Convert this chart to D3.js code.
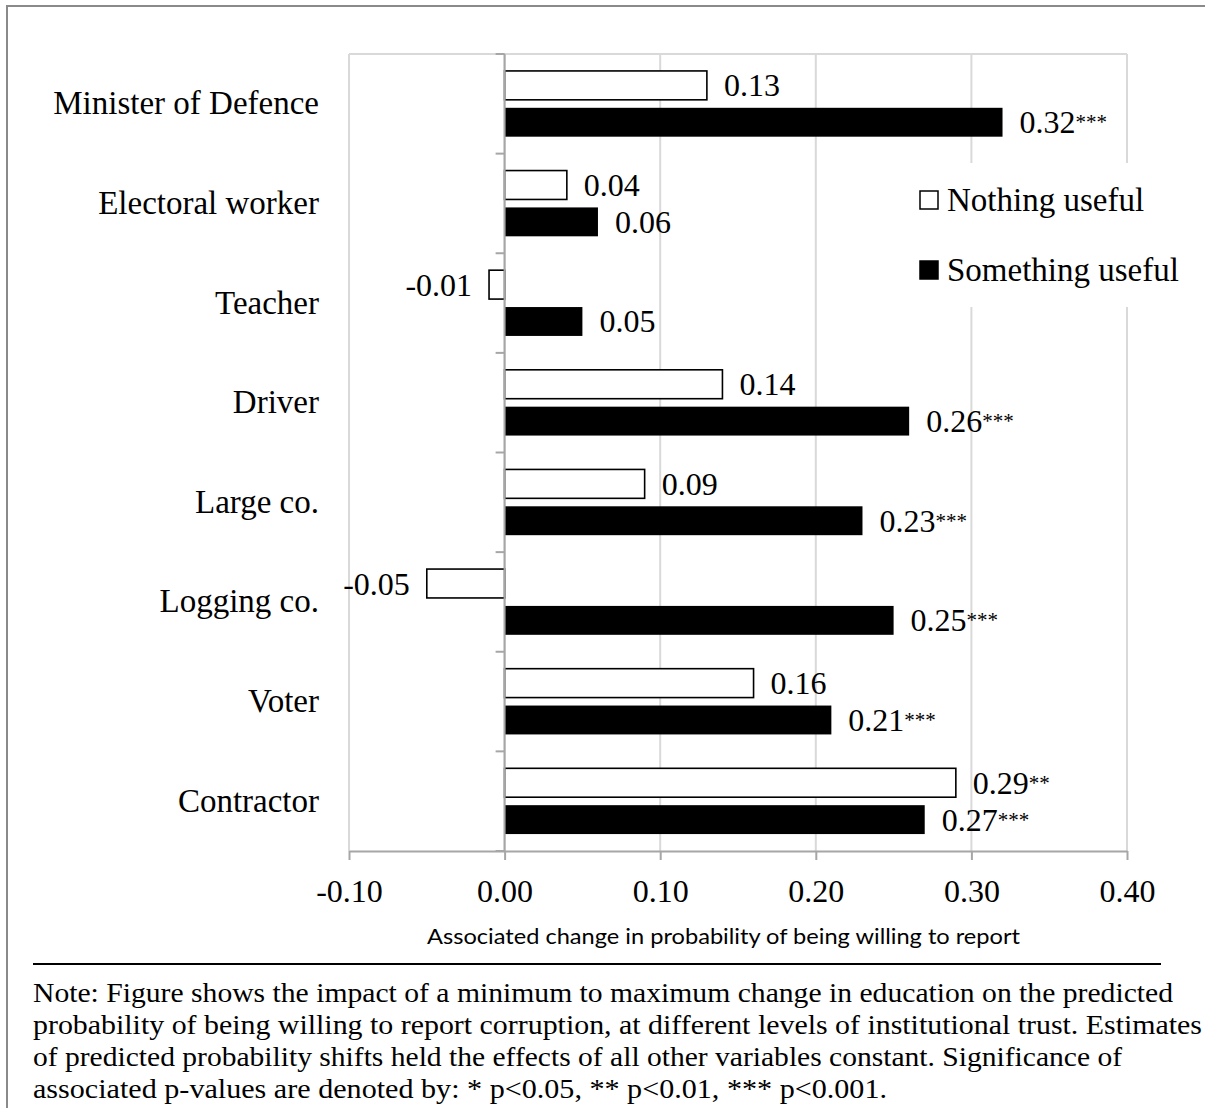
<!DOCTYPE html>
<html>
<head>
<meta charset="utf-8">
<script src="https://cdn.jsdelivr.net/npm/d3@7"></script>
<style>
  html, body { margin: 0; padding: 0; background: #fff; }
  svg { display: block; }
</style>
</head>
<body>
<script>
// Education effect on willingness to report, by target and institutional-trust level
const categories = ["Minister of Defence", "Electoral worker", "Teacher", "Driver",
                    "Large co.", "Logging co.", "Voter", "Contractor"];
const seriesNames = ["Nothing useful", "Something useful"];
const nothingUseful   = [0.13, 0.04, -0.01, 0.14, 0.09, -0.05, 0.16, 0.29];
const somethingUseful = [0.32, 0.06, 0.05, 0.26, 0.23, 0.25, 0.21, 0.27];
const nothingSig   = ["", "", "", "", "", "", "", "**"];
const somethingSig = ["***", "", "", "***", "***", "***", "***", "***"];
const xTicks = [-0.10, 0.00, 0.10, 0.20, 0.30, 0.40];
const xTitle = "Associated change in probability of being willing to report";
const noteLines = [
  "Note: Figure shows the impact of a minimum to maximum change in education on the predicted",
  "probability of being willing to report corruption, at different levels of institutional trust. Estimates",
  "of predicted probability shifts held the effects of all other variables constant. Significance of",
  "associated p-values are denoted by: * p<0.05, ** p<0.01, *** p<0.001."
];

const W = 1205, H = 1108;
const serif = "'Liberation Serif', 'DejaVu Serif', serif";
const sans = "Lato, 'Open Sans', sans-serif";

const svg = d3.select("body").append("svg").attr("width", W).attr("height", H);

// outer frame of the figure
svg.append("rect").attr("x", 7).attr("y", 6).attr("width", W + 20).attr("height", H + 20)
  .attr("fill", "none").attr("stroke", "#8a8a8a").attr("stroke-width", 2);

const plot = { left: 349, right: 1127, top: 54, bottom: 851 };

const x = d3.scaleLinear().domain([-0.10, 0.40]).range([plot.left, plot.right]);
const y = d3.scaleBand().domain(categories).range([plot.top, plot.bottom]).padding(0);

const rows = categories.map((c, i) => ({
  cat: c,
  vals: [
    { s: 0, v: nothingUseful[i], sig: nothingSig[i] },
    { s: 1, v: somethingUseful[i], sig: somethingSig[i] }
  ]
}));

// vertical gridlines
svg.append("g").selectAll("line").data(xTicks).join("line")
  .attr("x1", d => x(d)).attr("x2", d => x(d))
  .attr("y1", plot.top).attr("y2", plot.bottom)
  .attr("stroke", "#d9d9d9").attr("stroke-width", 2);

// plot-area border (top)
svg.append("line").attr("x1", plot.left).attr("x2", plot.right)
  .attr("y1", plot.top).attr("y2", plot.top)
  .attr("stroke", "#d9d9d9").attr("stroke-width", 2);

// bars
const bw = y.bandwidth();
const barH = bw * 0.29, barGap = bw * 0.08;
const barY = (cat, s) => y(cat) + (bw - 2 * barH - barGap) / 2 + s * (barH + barGap);

const g = svg.append("g");
rows.forEach(r => {
  r.vals.forEach(d => {
    const x0 = x(Math.min(0, d.v)), x1 = x(Math.max(0, d.v));
    g.append("rect")
      .attr("x", x0).attr("y", barY(r.cat, d.s))
      .attr("width", x1 - x0).attr("height", barH)
      .attr("fill", d.s === 0 ? "#fff" : "#000")
      .attr("stroke", "#000").attr("stroke-width", d.s === 0 ? 1.6 : 0);
  });
});

// category axis at zero with ticks on band boundaries
const yAxis = svg.append("g");
yAxis.append("line").attr("x1", x(0)).attr("x2", x(0))
  .attr("y1", plot.top).attr("y2", plot.bottom)
  .attr("stroke", "#a6a6a6").attr("stroke-width", 2);
const bounds = categories.map(c => y(c)).concat([y.range()[1]]);
yAxis.selectAll("line.tk").data(bounds).join("line").attr("class", "tk")
  .attr("x1", x(0) - 9).attr("x2", x(0))
  .attr("y1", d => d).attr("y2", d => d)
  .attr("stroke", "#a6a6a6").attr("stroke-width", 2);

// category labels
svg.append("g").selectAll("text").data(categories).join("text")
  .attr("x", 319).attr("y", d => y(d) + bw / 2 + 10.5)
  .attr("text-anchor", "end")
  .attr("font-family", serif).attr("font-size", 33).attr("fill", "#000")
  .text(d => d);

// value axis
const xAxis = svg.append("g").attr("transform", `translate(0,${plot.bottom})`)
  .call(d3.axisBottom(x).tickValues(xTicks).tickSize(9).tickSizeOuter(0)
    .tickFormat(d => d.toFixed(2)));
xAxis.select(".domain").attr("stroke", "#a6a6a6").attr("stroke-width", 2);
xAxis.selectAll(".tick line").attr("stroke", "#a6a6a6").attr("stroke-width", 2);
xAxis.selectAll(".tick text")
  .attr("y", 51).attr("dy", 0)
  .attr("font-family", serif).attr("font-size", 32).attr("fill", "#000");

// data labels with significance stars
const lab = svg.append("g");
rows.forEach(r => {
  r.vals.forEach(d => {
    const cy = barY(r.cat, d.s) + barH / 2;
    const t = lab.append("text")
      .attr("y", cy + 11)
      .attr("font-family", serif).attr("font-size", 32).attr("fill", "#000");
    if (d.v >= 0) {
      t.attr("x", x(d.v) + 17).attr("text-anchor", "start");
    } else {
      t.attr("x", x(d.v) - 17).attr("text-anchor", "end");
    }
    t.append("tspan").text(d.v.toFixed(2));
    if (d.sig) {
      t.append("tspan").attr("font-size", 21).attr("dy", -4).text(d.sig);
    }
  });
});

// legend
const leg = svg.append("g");
leg.append("rect").attr("x", 905).attr("y", 163).attr("width", 298).attr("height", 144)
  .attr("fill", "#fff");
seriesNames.forEach((name, i) => {
  const ly = 200 + i * 70;
  leg.append("rect").attr("x", 920).attr("y", ly - 9).attr("width", 18).attr("height", 18)
    .attr("fill", i === 0 ? "#fff" : "#000").attr("stroke", "#000").attr("stroke-width", 1.5);
  leg.append("text").attr("x", 947).attr("y", ly + 11)
    .attr("font-family", serif).attr("font-size", 33).attr("fill", "#000")
    .text(name);
});

// axis title
svg.append("text").attr("x", 427).attr("y", 944)
  .attr("font-family", sans).attr("font-size", 21).attr("fill", "#000")
  .attr("textLength", 593).attr("lengthAdjust", "spacingAndGlyphs")
  .text(xTitle);

// rule and note
svg.append("line").attr("x1", 33).attr("x2", 1161).attr("y1", 964).attr("y2", 964)
  .attr("stroke", "#000").attr("stroke-width", 2);
const noteWidths = [1140, 1169, 1089, 854];
svg.append("g").selectAll("text").data(noteLines).join("text")
  .attr("x", 33).attr("y", (d, i) => 1002 + i * 32)
  .attr("font-family", serif).attr("font-size", 27).attr("fill", "#000")
  .attr("textLength", (d, i) => noteWidths[i]).attr("lengthAdjust", "spacingAndGlyphs")
  .text(d => d);
</script>
</body>
</html>
